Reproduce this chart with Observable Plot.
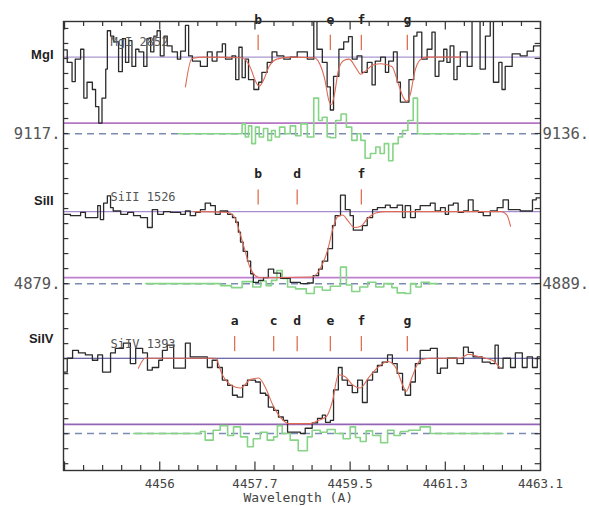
<!DOCTYPE html>
<html><head><meta charset="utf-8">
<script src="https://cdn.jsdelivr.net/npm/d3@7"></script>
<script src="https://cdn.jsdelivr.net/npm/@observablehq/plot@0.6"></script>
<style>body{margin:0;background:#fff}</style>
</head><body><div id="chart"></div>
<script>
// ---------- data ----------
const panelNames = ["MgI", "SiII", "SiIV"];
const lineIds = ["MgI 2852", "SiII 1526", "SiIV 1393"];
const leftValues = ["9117.", "4879.", ""];
const rightValues = ["9136.", "4889.", ""];
const xTickValues = [4455.96, 4457.74, 4459.52, 4461.30, 4463.08];
const xTickLabels = ["4456", "4457.7", "4459.5", "4461.3", "4463.1"];
const compLetters = ["a", "b", "c", "d", "e", "f", "g"];
const compWaves = [4457.36, 4457.80, 4458.09, 4458.53, 4459.15, 4459.73, 4460.59];
const panelComps = [["b", "e", "f", "g"], ["b", "d", "f"], ["a", "c", "d", "e", "f", "g"]];

const mgiSpec = [[4454.16,1.11],[4454.23,0.92],[4454.32,0.63],[4454.38,0.97],[4454.48,1.12],[4454.54,0.38],[4454.60,0.62],[4454.70,0.51],[4454.76,0.25],[4454.82,0.0],[4454.88,0.38],[4454.95,0.82],[4454.98,1.40],[4455.04,1.32],[4455.10,1.23],[4455.19,0.78],[4455.26,1.28],[4455.32,0.92],[4455.38,1.25],[4455.44,0.86],[4455.51,1.12],[4455.57,1.08],[4455.66,0.86],[4455.72,1.28],[4455.79,1.08],[4455.85,1.32],[4455.91,1.40],[4455.97,1.02],[4456.04,1.32],[4456.10,1.17],[4456.19,1.08],[4456.29,0.97],[4456.35,1.09],[4456.44,1.48],[4456.50,1.02],[4456.57,0.94],[4456.72,0.86],[4456.85,1.08],[4456.94,0.94],[4457.03,1.08],[4457.13,1.20],[4457.19,0.97],[4457.31,1.02],[4457.38,0.66],[4457.44,1.15],[4457.50,0.69],[4457.56,0.97],[4457.62,0.66],[4457.72,0.51],[4457.81,0.62],[4457.87,0.77],[4457.97,0.92],[4458.06,1.08],[4458.15,1.02],[4458.28,0.97],[4458.40,1.00],[4458.53,1.08],[4458.72,0.97],[4458.84,1.58],[4458.90,1.12],[4459.00,0.92],[4459.09,0.55],[4459.15,0.20],[4459.21,0.71],[4459.31,1.12],[4459.40,1.23],[4459.49,1.31],[4459.56,0.97],[4459.65,1.02],[4459.74,0.77],[4459.84,0.92],[4459.93,0.58],[4459.99,0.94],[4460.09,1.00],[4460.18,0.77],[4460.24,0.94],[4460.33,1.08],[4460.40,0.62],[4460.46,0.32],[4460.62,0.66],[4460.71,1.32],[4460.77,1.38],[4460.86,0.97],[4460.96,1.12],[4461.05,1.38],[4461.11,0.71],[4461.18,0.94],[4461.27,1.12],[4461.33,0.92],[4461.39,1.17],[4461.46,0.66],[4461.52,0.86],[4461.58,1.08],[4461.71,0.86],[4461.80,1.58],[4461.95,0.82],[4462.05,1.32],[4462.14,1.58],[4462.20,0.62],[4462.30,0.92],[4462.36,0.51],[4462.42,0.86],[4462.55,1.05],[4462.70,1.02],[4462.83,1.09],[4462.95,1.17],[4463.08,1.17]];
const mgiFit = [[4456.44,0.55],[4456.56,0.98],[4456.80,1.0],[4457.50,0.99],[4457.65,0.85],[4457.76,0.62],[4457.82,0.56],[4457.90,0.65],[4458.00,0.85],[4458.15,0.97],[4458.40,1.0],[4458.85,0.99],[4458.95,0.9],[4459.05,0.65],[4459.12,0.35],[4459.17,0.28],[4459.23,0.45],[4459.30,0.8],[4459.40,0.95],[4459.50,0.97],[4459.62,0.85],[4459.72,0.74],[4459.82,0.8],[4459.95,0.88],[4460.10,0.9],[4460.30,0.86],[4460.42,0.6],[4460.52,0.38],[4460.58,0.33],[4460.65,0.45],[4460.72,0.75],[4460.82,0.95],[4460.95,1.0],[4461.60,1.0]];
const mgiResid = [[4456.31,0],[4457.50,0.15],[4457.56,-0.05],[4457.62,0.12],[4457.68,-0.15],[4457.75,0.1],[4457.82,-0.05],[4457.90,0.08],[4457.98,-0.1],[4458.05,0.05],[4458.12,-0.05],[4458.20,0.1],[4458.30,0.0],[4458.40,0.12],[4458.50,-0.03],[4458.60,0.15],[4458.72,-0.05],[4458.84,0.54],[4458.93,0.2],[4459.00,0.25],[4459.09,-0.05],[4459.15,-0.06],[4459.25,0.2],[4459.35,0.3],[4459.45,0.1],[4459.55,-0.1],[4459.65,0.0],[4459.72,-0.1],[4459.80,-0.37],[4459.90,-0.3],[4460.00,-0.2],[4460.08,-0.3],[4460.16,-0.15],[4460.24,-0.41],[4460.32,-0.15],[4460.42,-0.05],[4460.50,0.05],[4460.60,0.2],[4460.70,0.54],[4460.78,0.0],[4461.95,0]];

const siiSpec = [[4454.16,0.96],[4454.29,0.94],[4454.48,0.99],[4454.57,0.91],[4454.80,1.09],[4454.85,0.88],[4454.91,1.13],[4454.98,1.24],[4455.04,1.06],[4455.09,1.01],[4455.23,0.96],[4455.36,0.99],[4455.47,0.94],[4455.60,0.91],[4455.73,0.76],[4455.82,1.03],[4455.92,0.96],[4456.03,1.00],[4456.16,0.99],[4456.35,0.96],[4456.44,1.01],[4456.53,0.94],[4456.63,0.99],[4456.72,1.03],[4456.81,1.13],[4456.91,1.09],[4457.00,0.96],[4457.09,1.01],[4457.23,0.96],[4457.32,0.91],[4457.38,0.84],[4457.43,0.69],[4457.47,0.54],[4457.52,0.40],[4457.60,0.25],[4457.66,0.06],[4457.71,-0.07],[4457.81,-0.04],[4457.90,0.0],[4457.99,0.13],[4458.09,0.07],[4458.22,-0.01],[4458.40,-0.07],[4458.59,-0.09],[4458.72,-0.08],[4458.83,0.03],[4458.93,0.13],[4459.00,0.25],[4459.10,0.44],[4459.19,0.79],[4459.24,0.94],[4459.34,1.25],[4459.43,1.03],[4459.52,0.94],[4459.58,0.72],[4459.75,0.79],[4459.84,0.91],[4459.94,1.03],[4460.03,1.06],[4460.18,1.10],[4460.27,1.06],[4460.40,1.10],[4460.50,0.91],[4460.55,1.09],[4460.65,0.91],[4460.74,1.03],[4460.83,1.09],[4461.02,1.13],[4461.11,1.01],[4461.21,1.06],[4461.30,0.96],[4461.36,1.10],[4461.45,1.13],[4461.54,0.99],[4461.64,1.01],[4461.73,1.18],[4461.82,1.01],[4461.92,0.99],[4462.01,0.94],[4462.14,1.01],[4462.27,1.06],[4462.38,1.18],[4462.48,1.03],[4462.70,1.01],[4462.93,1.18],[4463.00,1.21],[4463.08,1.21]];
const siiFit = [[4456.60,1.0],[4457.20,0.99],[4457.35,0.93],[4457.45,0.7],[4457.55,0.42],[4457.65,0.15],[4457.75,0.03],[4457.85,0.0],[4458.80,0.01],[4458.90,0.06],[4459.00,0.2],[4459.10,0.42],[4459.20,0.75],[4459.28,0.92],[4459.38,0.95],[4459.48,0.86],[4459.60,0.76],[4459.72,0.78],[4459.85,0.9],[4460.00,0.98],[4460.20,1.0],[4462.35,1.0],[4462.45,0.95],[4462.52,0.78]];
const siiResid = [[4455.70,0],[4457.10,-0.03],[4457.30,-0.06],[4457.50,0.03],[4457.70,-0.05],[4457.85,0.04],[4457.95,-0.03],[4458.05,0.05],[4458.15,0.2],[4458.25,0.08],[4458.35,-0.05],[4458.50,-0.08],[4458.70,-0.15],[4458.85,-0.05],[4459.00,-0.1],[4459.15,-0.04],[4459.34,0.25],[4459.45,-0.02],[4459.55,-0.12],[4459.70,-0.05],[4459.85,0.02],[4460.00,-0.05],[4460.15,0.0],[4460.30,-0.06],[4460.40,-0.14],[4460.55,-0.15],[4460.65,0.0],[4460.75,-0.05],[4460.85,0.02],[4461.00,0.0],[4461.15,0]];

const sivSpec = [[4454.16,0.79],[4454.23,1.00],[4454.33,1.12],[4454.44,1.08],[4454.57,1.05],[4454.70,0.97],[4454.80,1.05],[4454.89,0.79],[4455.04,1.08],[4455.13,1.15],[4455.28,1.23],[4455.41,0.92],[4455.51,1.15],[4455.64,1.08],[4455.73,0.82],[4455.82,0.86],[4455.94,0.97],[4456.01,1.12],[4456.10,1.20],[4456.22,0.85],[4456.44,1.23],[4456.53,1.02],[4456.85,0.86],[4456.94,0.97],[4457.04,0.86],[4457.13,0.67],[4457.23,0.59],[4457.32,0.44],[4457.41,0.41],[4457.51,0.59],[4457.60,0.67],[4457.75,0.64],[4457.84,0.47],[4457.94,0.44],[4457.99,0.26],[4458.09,0.21],[4458.18,0.11],[4458.27,0.06],[4458.35,-0.12],[4458.59,-0.14],[4458.68,-0.06],[4458.81,0.02],[4458.91,0.09],[4459.00,0.14],[4459.06,0.03],[4459.15,0.06],[4459.21,0.52],[4459.30,0.86],[4459.37,0.67],[4459.47,0.59],[4459.56,0.48],[4459.66,0.67],[4459.75,0.33],[4459.84,0.67],[4459.94,0.79],[4460.03,0.89],[4460.12,0.94],[4460.22,1.05],[4460.31,0.92],[4460.40,0.77],[4460.50,0.52],[4460.55,0.44],[4460.65,0.64],[4460.74,0.92],[4460.83,1.12],[4461.02,1.15],[4461.15,0.77],[4461.21,0.85],[4461.34,1.00],[4461.52,0.92],[4461.64,1.17],[4461.73,1.09],[4461.82,1.02],[4461.99,0.94],[4462.14,0.92],[4462.23,1.20],[4462.29,0.85],[4462.38,1.00],[4462.52,0.86],[4462.61,1.08],[4462.74,0.86],[4462.83,1.02],[4462.93,0.86],[4463.02,1.02],[4463.08,1.02]];
const sivFit = [[4455.56,0.85],[4455.69,1.0],[4457.00,1.0],[4457.13,0.75],[4457.32,0.58],[4457.47,0.55],[4457.66,0.68],[4457.81,0.7],[4457.94,0.55],[4458.07,0.3],[4458.22,0.1],[4458.37,0.01],[4458.78,0.01],[4458.93,0.06],[4459.08,0.12],[4459.19,0.35],[4459.30,0.75],[4459.43,0.72],[4459.56,0.6],[4459.71,0.55],[4459.86,0.7],[4460.05,0.87],[4460.23,0.95],[4460.38,0.85],[4460.50,0.6],[4460.57,0.5],[4460.68,0.72],[4460.83,0.97],[4461.02,1.0],[4461.58,1.0],[4461.73,1.06],[4461.95,1.02],[4462.18,0.97],[4462.33,0.85]];
const sivResid = [[4455.47,0],[4456.72,0.03],[4456.81,-0.1],[4456.96,0.05],[4457.09,0.12],[4457.23,-0.03],[4457.34,0.1],[4457.47,-0.05],[4457.60,-0.2],[4457.71,-0.08],[4457.84,0.02],[4457.97,-0.1],[4458.09,-0.05],[4458.16,0.12],[4458.25,0.0],[4458.40,-0.1],[4458.55,-0.26],[4458.72,-0.05],[4458.81,0.05],[4458.96,0.02],[4459.09,0.06],[4459.24,0.0],[4459.39,-0.08],[4459.52,0.1],[4459.62,-0.06],[4459.71,-0.12],[4459.82,0.04],[4459.94,-0.03],[4460.09,-0.14],[4460.22,0.05],[4460.34,-0.03],[4460.46,0.03],[4460.61,0.05],[4460.83,0.1],[4461.02,0],[4462.38,0]];

// ---------- layout ----------
const xDomain = [4454.16, 4463.08];
const yTop = 6.80;
const zeroBase = [5.26, 2.92, 0.70];
const residBase = [5.10, 2.83, 0.56];
const nameLevel = [1.03, 1.17, 1.30];
const contColor = ["#a898d0", "#a88cd0", "#3e3a8c"];
const zeroColor = ["#b574c4", "#c080d0", "#9464b4"];
const specs = [mgiSpec, siiSpec, sivSpec];
const fits = [mgiFit, siiFit, sivFit];
const resids = [mgiResid, siiResid, sivResid];

const mono = "DejaVu Sans Mono, monospace";
const marks = [];

panelNames.forEach((name, i) => {
  const b = zeroBase[i];
  marks.push(Plot.ruleY([b + 1], {y: d => d, x1: xDomain[0], x2: xDomain[1], stroke: contColor[i], strokeWidth: 1.1}));
  marks.push(Plot.ruleY([b], {y: d => d, x1: xDomain[0], x2: xDomain[1], stroke: zeroColor[i], strokeWidth: 1.8}));
  marks.push(Plot.ruleY([residBase[i]], {y: d => d, x1: xDomain[0], x2: xDomain[1], stroke: "#7c8cb0", strokeWidth: 1.5, strokeDasharray: "7,5"}));
  marks.push(Plot.line(resids[i], {x: d => d[0], y: d => residBase[i] + d[1], curve: "step-after", stroke: "#86d486", strokeWidth: 1.6}));
  marks.push(Plot.line(specs[i], {x: d => d[0], y: d => b + d[1], curve: "step-after", stroke: "#2b2b2b", strokeWidth: 1.3, clip: true}));
  marks.push(Plot.line(fits[i], {x: d => d[0], y: d => b + d[1], stroke: "#dd6a55", strokeWidth: 1.1, curve: "monotone-x", clip: true}));
  const comps = panelComps[i].map(l => ({l, w: compWaves[compLetters.indexOf(l)]}));
  marks.push(Plot.ruleX(comps, {x: "w", y1: b + 1.10, y2: b + 1.33, stroke: "#e0704f", strokeWidth: 1.3}));
  marks.push(Plot.text(comps, {x: "w", y: b + 1.57, text: "l", fontFamily: mono, fontWeight: "bold", fontSize: 13, fill: "#222"}));
  marks.push(Plot.text([name], {x: xDomain[0], y: b + nameLevel[i], text: d => d, dx: -10, textAnchor: "end", fontFamily: "Liberation Sans, Arial, sans-serif", fontWeight: "bold", fontSize: 13, fill: "#222"}));
  marks.push(Plot.text([lineIds[i]], {x: 4455.04, y: b + 1.22, text: d => d, textAnchor: "start", fontFamily: mono, fontSize: 12, fill: "#555"}));
  if (leftValues[i]) {
    marks.push(Plot.text([leftValues[i]], {x: xDomain[0], y: residBase[i], text: d => d, dx: -3, textAnchor: "end", fontFamily: mono, fontSize: 15.5, fill: "#555"}));
    marks.push(Plot.text([rightValues[i]], {x: xDomain[1], y: residBase[i], text: d => d, dx: 2, textAnchor: "start", fontFamily: mono, fontSize: 15.5, fill: "#555"}));
  }
});

// axis ticks (inward)
const xStep = (xTickValues[1] - xTickValues[0]) / 5;
const xMinor = d3.range(-5, 21).map(k => ({v: xTickValues[0] + k * xStep, major: k % 5 === 0}))
  .filter(d => d.v >= xDomain[0] && d.v <= xDomain[1] + 0.01);
const yStep = 0.2273;
const yTicks = d3.range(-2, 28).map(k => 6.24 - k * yStep).filter(v => v > 0.05 && v < yTop);
marks.push(Plot.ruleX(xMinor, {x: "v", y1: 0, y2: d => d.major ? 0.13 : 0.075, stroke: "#333", strokeWidth: 1.2}));
marks.push(Plot.ruleX(xMinor, {x: "v", y1: yTop, y2: d => yTop - (d.major ? 0.13 : 0.075), stroke: "#333", strokeWidth: 1.2}));
marks.push(Plot.ruleY(yTicks, {y: d => d, x1: xDomain[0], x2: xDomain[0] + 0.1, stroke: "#333", strokeWidth: 1.2}));
marks.push(Plot.ruleY(yTicks, {y: d => d, x1: xDomain[1], x2: xDomain[1] - 0.1, stroke: "#333", strokeWidth: 1.2}));
marks.push(Plot.frame({stroke: "#333", strokeWidth: 1.4}));
marks.push(Plot.text(xTickValues, {x: d => d, y: 0, text: (d, i) => xTickLabels[i], dy: 13, fontFamily: mono, fontSize: 12.5, fill: "#444"}));
marks.push(Plot.text(["Wavelength (A)"], {x: 4458.55, y: 0, text: d => d, dy: 27, fontFamily: mono, fontSize: 13, fill: "#444"}));

const chart = Plot.plot({
  width: 589, height: 506,
  marginLeft: 63, marginRight: 49, marginTop: 21, marginBottom: 36,
  x: {domain: xDomain, axis: null},
  y: {domain: [0, yTop], axis: null},
  style: {background: "white", overflow: "visible"},
  marks
});
document.getElementById("chart").appendChild(chart);
</script>
</body></html>
